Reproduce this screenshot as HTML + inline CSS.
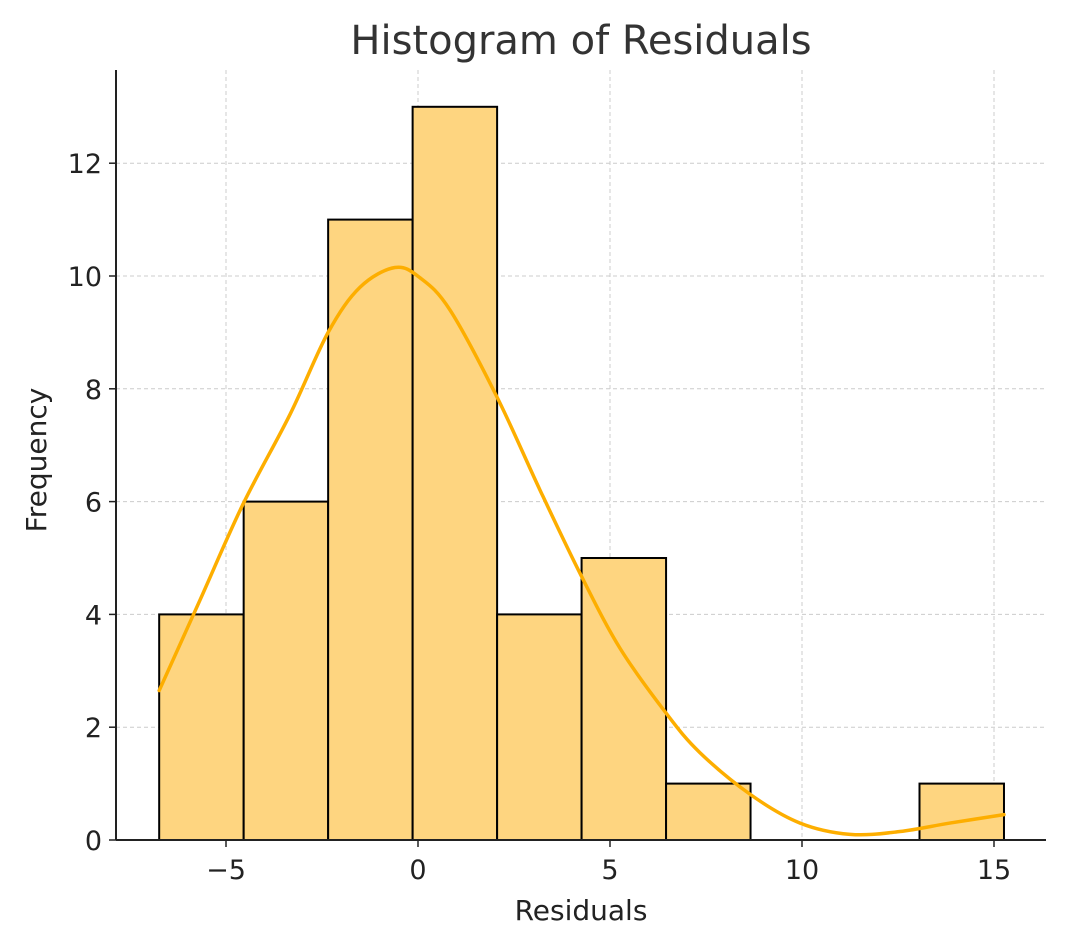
<!DOCTYPE html>
<html><head><meta charset="utf-8"><style>
body{margin:0;background:#fff}
svg text{font-family:"DejaVu Sans","Liberation Sans",sans-serif;fill:#222}
</style></head><body>
<svg id="chart" width="1066" height="947" xmlns="http://www.w3.org/2000/svg">
<text x="581" y="54" font-size="40" text-anchor="middle" style="fill:#333">Histogram of Residuals</text>
<g id="grid"></g><g id="bars"></g><g id="kde"></g><g id="axes"></g>
<text x="581" y="920" font-size="28" text-anchor="middle">Residuals</text>
<text x="46" y="460" font-size="28" text-anchor="middle" transform="rotate(-90 46 460)">Frequency</text>
</svg>
<script>
const binStart = -6.74;
const binWidth = 2.2;
const counts = [4,6,11,13,4,5,1,0,0,1];
const kdeX = [-6.74,-5.68,-4.56,-3.33,-2.34,-1.51,-0.6,0.05,0.83,2.06,3.18,4.24,5.26,6.46,7.34,8.67,9.95,11.25,12.55,13.85,15.26];
const kdeY = [2.65,4.25,5.95,7.55,9.0,9.8,10.15,9.97,9.4,7.85,6.2,4.7,3.4,2.25,1.55,0.8,0.3,0.1,0.15,0.3,0.45];
const xTicks = [-5,0,5,10,15];
const xTickLabels = ["−5","0","5","10","15"];
const yTicks = [0,2,4,6,8,10,12];
const NS="http://www.w3.org/2000/svg";
const X0=116,X1=1046,Y0=840,Y1=70;
const xs=v=>418+v*38.4;
const ys=v=>840-v*56.4;
function mk(t,a,p){const e=document.createElementNS(NS,t);for(const k in a)e.setAttribute(k,a[k]);p.appendChild(e);return e;}
const grid=document.getElementById('grid'),bars=document.getElementById('bars'),kde=document.getElementById('kde'),axes=document.getElementById('axes');
xTicks.forEach((t,i)=>{
 const g=mk('line',{x1:xs(t),x2:xs(t),y1:Y1,y2:Y0,stroke:'#ccc','stroke-dasharray':'4,3'},grid);
 
 
 mk('line',{x1:xs(t),x2:xs(t),y1:Y0,y2:Y0+7,stroke:'#222','stroke-width':1.5},axes);
 const l=mk('text',{x:xs(t),y:Y0+39,'font-size':27,'text-anchor':'middle'},axes);
 l.textContent=xTickLabels[i];
 
 
});
yTicks.forEach(t=>{
 if(t>0){const g=mk('line',{x1:X0,x2:X1,y1:ys(t),y2:ys(t),stroke:'#ccc','stroke-dasharray':'4,3'},grid);
 
 }
 mk('line',{x1:X0-7,x2:X0,y1:ys(t),y2:ys(t),stroke:'#222','stroke-width':1.5},axes);
 const l=mk('text',{x:X0-14,y:ys(t)+10,'font-size':27,'text-anchor':'end'},axes);
 l.textContent=t;
 
 
});
counts.forEach((c,i)=>{
 if(c<=0)return;
 const a=binStart+i*binWidth,b=a+binWidth;
 const r=mk('rect',{x:xs(a),y:ys(c),width:xs(b)-xs(a),height:ys(0)-ys(c),fill:'#fed580',stroke:'#000','stroke-width':2},bars);
 
 
});
const P=kdeX.map((x,i)=>[xs(x),ys(kdeY[i])]);
let d='M'+P[0][0]+','+P[0][1];
for(let i=0;i<P.length-1;i++){
 const p0=P[Math.max(0,i-1)],p1=P[i],p2=P[i+1],p3=P[Math.min(P.length-1,i+2)];
 const c1=[p1[0]+(p2[0]-p0[0])/6,p1[1]+(p2[1]-p0[1])/6];
 const c2=[p2[0]-(p3[0]-p1[0])/6,p2[1]-(p3[1]-p1[1])/6];
 d+='C'+c1[0]+','+c1[1]+' '+c2[0]+','+c2[1]+' '+p2[0]+','+p2[1];
}
const p=mk('path',{d:d,fill:'none',stroke:'#fdae00','stroke-width':3.5,'stroke-linejoin':'round','stroke-linecap':'round'},kde);


const la=mk('line',{x1:X0,x2:X0,y1:Y1,y2:Y0,stroke:'#222','stroke-width':2},axes);


const lb=mk('line',{x1:X0,x2:X1,y1:Y0,y2:Y0,stroke:'#222','stroke-width':2},axes);


</script>
</body></html>
